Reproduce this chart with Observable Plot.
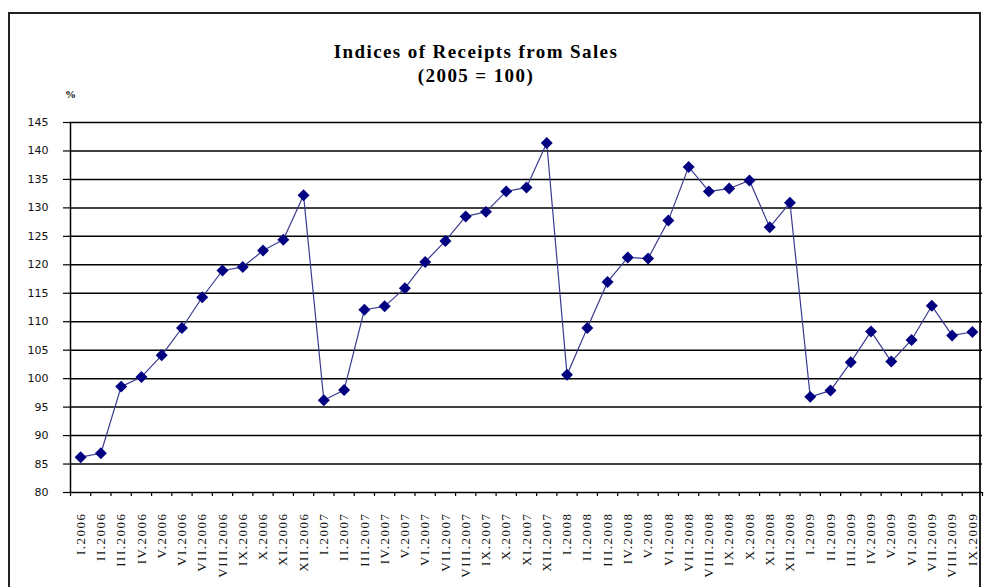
<!DOCTYPE html>
<html>
<head>
<meta charset="utf-8">
<script src="https://cdn.jsdelivr.net/npm/d3@7"></script>
<script src="https://cdn.jsdelivr.net/npm/@observablehq/plot@0.6"></script>
<style>
  html, body { margin: 0; padding: 0; background: #fff; }
  #wrap { position: relative; width: 985px; height: 587px; overflow: hidden; background: #fff; }
  #frame { position: absolute; left: 8px; top: 12px; width: 973px; height: 600px; border: 2px solid #222; box-sizing: border-box; }
  #title { position: absolute; left: 0; width: 952px; top: 40px; text-align: center; font-family: "Liberation Serif", serif; font-weight: bold; font-size: 19px; letter-spacing: 1.4px; line-height: 24px; color: #000; }
  #unit { position: absolute; left: 65px; top: 88px; font-family: "Liberation Serif", serif; font-weight: bold; font-size: 11px; color: #000; }
  #chart { position: absolute; left: 0; top: 0; }
  #chart g[aria-label="x-axis tick label"] text { letter-spacing: 1.5px; }
</style>
</head>
<body>
<div id="wrap">
  <div id="frame"></div>
  <div id="title">Indices of Receipts from Sales<br>(2005 = 100)</div>
  <div id="unit">%</div>
  <div id="chart"></div>
</div>
<script>
const months = [
  "I.2006","II.2006","III.2006","IV.2006","V.2006","VI.2006","VII.2006","VIII.2006","IX.2006","X.2006","XI.2006","XII.2006",
  "I.2007","II.2007","III.2007","IV.2007","V.2007","VI.2007","VII.2007","VIII.2007","IX.2007","X.2007","XI.2007","XII.2007",
  "I.2008","II.2008","III.2008","IV.2008","V.2008","VI.2008","VII.2008","VIII.2008","IX.2008","X.2008","XI.2008","XII.2008",
  "I.2009","II.2009","III.2009","IV.2009","V.2009","VI.2009","VII.2009","VIII.2009","IX.2009"
];
const values = [
  86.2, 86.9, 98.6, 100.3, 104.1, 108.9, 114.3, 119.0, 119.6, 122.5, 124.4, 132.2,
  96.2, 98.0, 112.1, 112.7, 115.9, 120.5, 124.2, 128.5, 129.3, 132.9, 133.6, 141.4,
  100.7, 108.9, 117.0, 121.3, 121.1, 127.8, 137.2, 132.9, 133.4, 134.8, 126.6, 130.9,
  96.8, 97.9, 102.9, 108.3, 103.0, 106.8, 112.8, 107.6, 108.2
];
const yTicks = [80, 85, 90, 95, 100, 105, 110, 115, 120, 125, 130, 135, 140, 145];

const data = months.map((m, i) => ({month: m, pos: i + 0.5, value: values[i]}));
const bounds = d3.range(0, months.length + 1);
const centers = data.map(d => d.pos);

const chart = Plot.plot({
  width: 985,
  height: 587,
  marginLeft: 70,
  marginRight: 3,
  marginTop: 122,
  marginBottom: 95,
  style: {background: "transparent", overflow: "visible"},
  x: {type: "linear", domain: [0, months.length], axis: null},
  y: {domain: [80, 145], axis: null},
  marks: [
    Plot.ruleY(yTicks, {stroke: "#000", strokeWidth: 1.5}),
    Plot.ruleX([0], {stroke: "#000", strokeWidth: 1.5}),
    Plot.axisY(yTicks, {label: null, tickSize: 7, tickPadding: 15, stroke: "#000", strokeWidth: 1.2,
      fontFamily: "DejaVu Sans", fontSize: 11, fill: "#111"}),
    Plot.axisX(bounds, {label: null, anchor: "bottom", tickSize: 4, tickFormat: () => "", stroke: "#000", strokeWidth: 1.2}),
    Plot.axisX(centers, {label: null, anchor: "bottom", tickSize: 0, tickPadding: 20, tickRotate: -90,
      tickFormat: d => months[Math.floor(d)], fontFamily: "Liberation Serif", fontSize: 13, fill: "#111"}),
    Plot.line(data, {x: "pos", y: "value", stroke: "#3a3a90", strokeWidth: 1.2}),
    Plot.dot(data, {x: "pos", y: "value", symbol: "diamond2", r: 5.4, fill: "#000080", stroke: "none"})
  ]
});
document.getElementById("chart").appendChild(chart);
</script>
</body>
</html>
